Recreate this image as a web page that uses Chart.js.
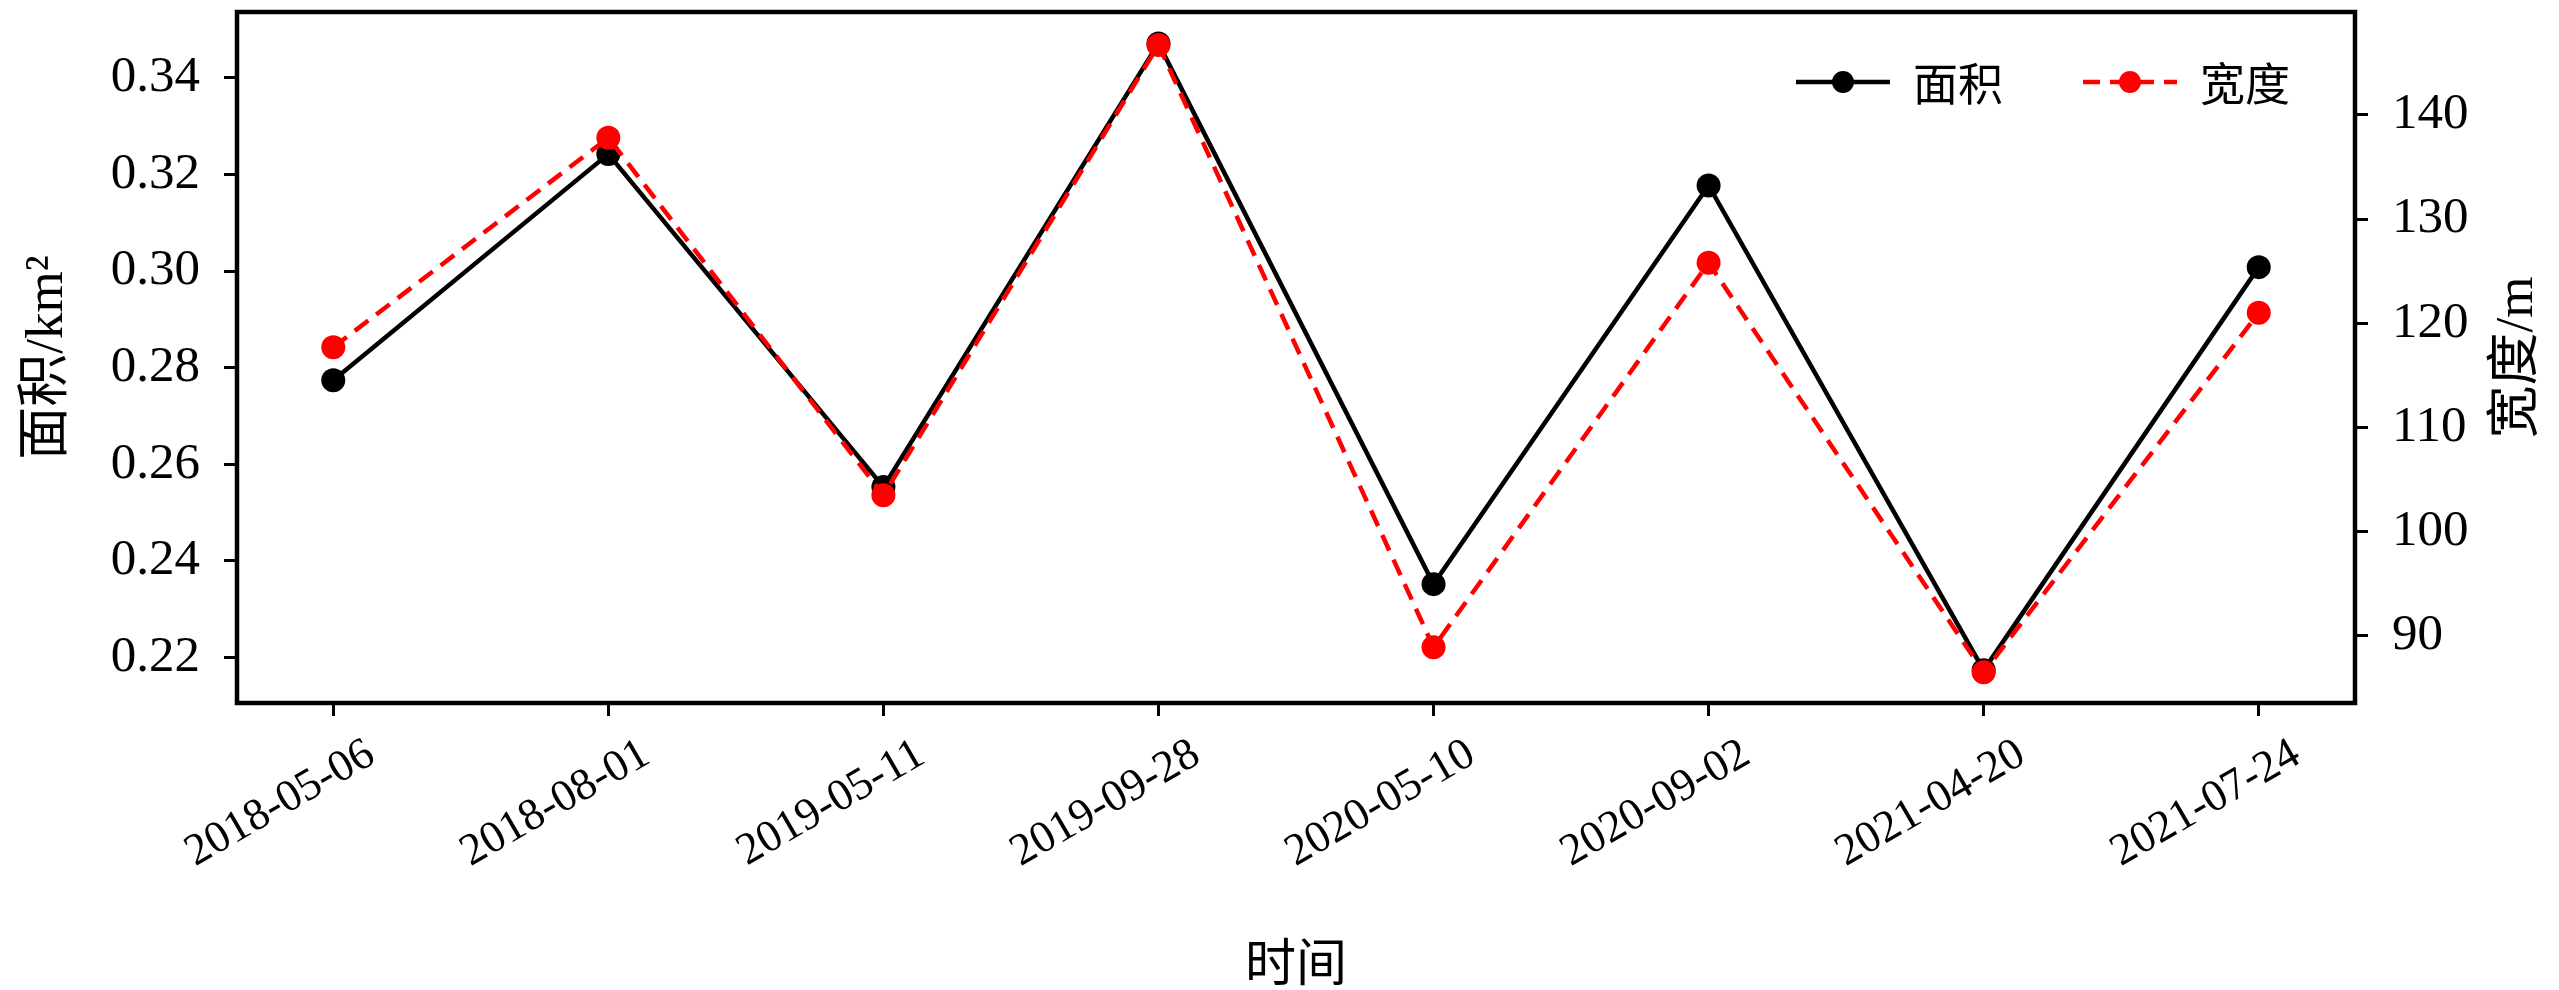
<!DOCTYPE html>
<html>
<head>
<meta charset="utf-8">
<script src="https://cdn.jsdelivr.net/npm/chart.js@4.4.1/dist/chart.umd.min.js"></script>
<style>
  html, body { margin: 0; padding: 0; background: #fff; }
  #wrap { width: 2559px; height: 990px; }
</style>
</head>
<body>
<div id="wrap"><canvas id="lineChart"></canvas></div>
<script>
// data
const dates = ['2018-05-06', '2018-08-01', '2019-05-11', '2019-09-28',
               '2020-05-10', '2020-09-02', '2021-04-20', '2021-07-24'];
const areaValues = [0.2774, 0.3242, 0.2553, 0.3471, 0.2352, 0.3177, 0.2174, 0.3008];
const widthValues = [117.7, 137.8, 103.5, 146.7, 88.9, 125.8, 86.5, 121.0];
const areaTicks = [0.22, 0.24, 0.26, 0.28, 0.30, 0.32, 0.34];
const widthTicks = [90, 100, 110, 120, 130, 140];

const serif = '"Liberation Serif", "Noto Sans CJK SC", serif';

function toPoints(values) {
  return values.map((v, i) => ({x: i, y: v}));
}

// box around the plot area
const framePlugin = {
  id: 'frame',
  beforeDatasetsDraw(chart) {
    const a = chart.chartArea;
    const ctx = chart.ctx;
    ctx.save();
    ctx.strokeStyle = '#000';
    ctx.lineWidth = 4.5;
    ctx.strokeRect(a.left, a.top, a.right - a.left, a.bottom - a.top);
    ctx.restore();
  }
};

// right axis title reads bottom-to-top like the left one
const rightTitlePlugin = {
  id: 'rightTitle',
  afterDraw(chart) {
    const ctx = chart.ctx;
    const a = chart.chartArea;
    ctx.save();
    ctx.translate(2518, (a.top + a.bottom) / 2);
    ctx.rotate(-Math.PI / 2);
    ctx.font = '53px ' + serif;
    ctx.fillStyle = '#000';
    ctx.textAlign = 'center';
    ctx.textBaseline = 'middle';
    ctx.fillText('宽度/m', 0, 0);
    ctx.restore();
  }
};

// legend sits inside the plot, top right
const legendPlugin = {
  id: 'insideLegend',
  afterDraw(chart) {
    const ctx = chart.ctx;
    const a = chart.chartArea;
    let x = a.right - 559;
    const y = a.top + 70;
    ctx.save();
    ctx.font = '45px "Noto Sans CJK SC", serif';
    ctx.textBaseline = 'middle';
    chart.data.datasets.forEach(ds => {
      ctx.strokeStyle = ds.borderColor;
      ctx.lineWidth = 4.5;
      ctx.setLineDash(ds.borderDash || []);
      ctx.beginPath();
      ctx.moveTo(x, y);
      ctx.lineTo(x + 94, y);
      ctx.stroke();
      ctx.setLineDash([]);
      ctx.fillStyle = ds.pointBackgroundColor;
      ctx.beginPath();
      ctx.arc(x + 47, y, 11, 0, Math.PI * 2);
      ctx.fill();
      ctx.fillStyle = '#000';
      ctx.fillText(ds.label, x + 117, y + 2);
      x += 117 + ctx.measureText(ds.label).width + 80;
    });
    ctx.restore();
  }
};

let chartformat = {};
chartformat.type = 'line';
chartformat.data = {
  datasets: [
    {
      label: '面积',
      data: toPoints(areaValues),
      yAxisID: 'y',
      borderColor: '#000000',
      backgroundColor: '#000000',
      pointBackgroundColor: '#000000',
      pointBorderColor: '#000000',
      borderWidth: 4.5,
      pointRadius: 12,
      pointBorderWidth: 0,
      order: 1
    },
    {
      label: '宽度',
      data: toPoints(widthValues),
      yAxisID: 'y1',
      borderColor: '#ff0000',
      backgroundColor: '#ff0000',
      pointBackgroundColor: '#ff0000',
      pointBorderColor: '#ff0000',
      borderWidth: 4.5,
      borderDash: [17, 10],
      pointRadius: 12,
      pointBorderWidth: 0,
      order: 0
    }
  ]
};

let options = chartformat.options = {};
options.responsive = true;
options.maintainAspectRatio = false;
options.animation = false;
options.layout = {padding: {top: 2}};
options.plugins = {legend: {display: false}, tooltip: {enabled: false}};

const tickGrid = {drawOnChartArea: false, drawTicks: true, tickLength: 13, tickWidth: 3, tickColor: '#000'};

options.scales = {
  x: {
    type: 'linear',
    min: -0.35,
    max: 7.35,
    afterBuildTicks: s => { s.ticks = dates.map((d, i) => ({value: i})); },
    afterFit: s => { s.height = 287; s.paddingLeft = 0; s.paddingRight = 0; },
    border: {display: false},
    grid: tickGrid,
    ticks: {
      callback: v => dates[v],
      autoSkip: false,
      minRotation: 30,
      maxRotation: 30,
      padding: 12,
      labelOffset: 38,
      color: '#000',
      font: {family: serif, size: 45}
    },
    title: {
      display: true,
      text: '时间',
      color: '#000',
      font: {family: serif, size: 51, lineHeight: 1},
      padding: {top: 0, bottom: -3}
    }
  },
  y: {
    position: 'left',
    min: 0.2106,
    max: 0.3536,
    afterBuildTicks: s => { s.ticks = areaTicks.map(v => ({value: v})); },
    afterFit: s => { s.width = 237; s.paddingTop = 0; s.paddingBottom = 0; },
    border: {display: false},
    grid: tickGrid,
    ticks: {
      callback: v => v.toFixed(2),
      padding: 24,
      color: '#000',
      font: {family: serif, size: 51}
    },
    title: {
      display: true,
      text: '面积/km²',
      color: '#000',
      font: {family: serif, size: 53, lineHeight: 1},
      padding: {top: 21.5, bottom: 0}
    }
  },
  y1: {
    position: 'right',
    min: 83.56,
    max: 149.87,
    afterBuildTicks: s => { s.ticks = widthTicks.map(v => ({value: v})); },
    afterFit: s => { s.width = 204; s.paddingTop = 0; s.paddingBottom = 0; },
    border: {display: false},
    grid: tickGrid,
    ticks: {
      callback: v => String(v),
      padding: 24,
      color: '#000',
      font: {family: serif, size: 51}
    },
    title: {display: false}
  }
};

chartformat.plugins = [framePlugin, rightTitlePlugin, legendPlugin];

new Chart(document.getElementById('lineChart'), chartformat);
</script>
</body>
</html>
